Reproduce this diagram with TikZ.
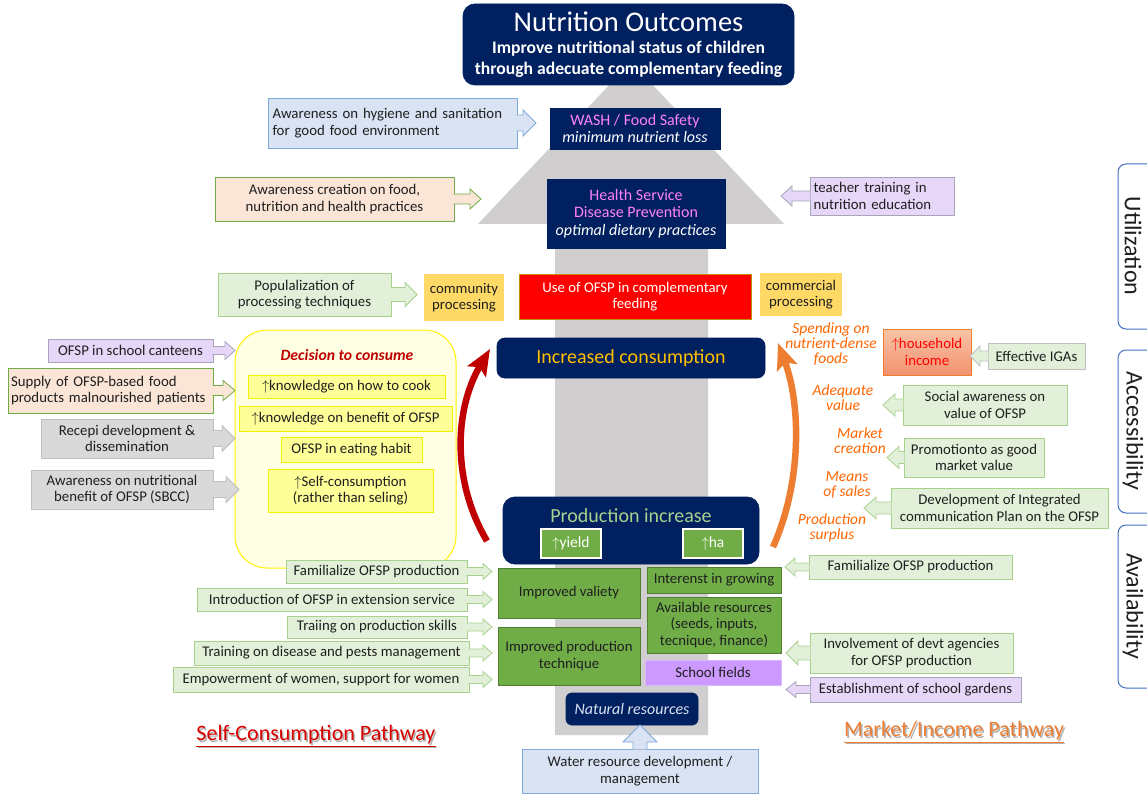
\documentclass[tikz,border=0pt]{standalone}
\usepackage{fontspec}
\setmainfont{Carlito}
\usetikzlibrary{calc,arrows.meta}

\definecolor{navy}{HTML}{002060}
\definecolor{pinkt}{HTML}{FF80FF}
\definecolor{goldt}{HTML}{FFC000}
\definecolor{lgrt}{HTML}{A9D18E}
\definecolor{bigarrow}{HTML}{D0CECE}
\definecolor{lblue}{HTML}{DAE3F3}
\definecolor{bblue}{HTML}{7FAADC}
\definecolor{peach}{HTML}{FBE5D6}
\definecolor{gborder}{HTML}{70AD47}
\definecolor{lgreen}{HTML}{E2F0D9}
\definecolor{lgborder}{HTML}{A9D18E}
\definecolor{lav}{HTML}{E6D6F8}
\definecolor{lavborder}{HTML}{A6A6B8}
\definecolor{gold}{HTML}{FFD966}
\definecolor{dred}{HTML}{C00000}
\definecolor{oran}{HTML}{FF6600}
\definecolor{orarrow}{HTML}{ED7D31}
\definecolor{midgreen}{HTML}{70AD47}
\definecolor{dgreen}{HTML}{507E32}
\definecolor{purp}{HTML}{CC99FF}
\definecolor{lgray}{HTML}{D9D9D9}
\definecolor{gray2}{HTML}{BFBFBF}
\definecolor{kyel}{HTML}{FFFF99}
\definecolor{kyelb}{HTML}{F2F200}
\definecolor{decfill}{HTML}{FFFFE3}
\definecolor{tabblue}{HTML}{4472C4}
\definecolor{txt}{HTML}{1F1F1F}
\definecolor{salmtop}{HTML}{F9C3A6}
\definecolor{salmbot}{HTML}{F2926F}
\definecolor{usebord}{HTML}{BF9000}
\definecolor{pathred}{HTML}{D90000}

% box given by its corners in pixel units: name, x1, y1, x2, y2, style, text
\newcommand\mkbox[7]{%
  \pgfmathsetmacro\bxw{#4-#2}\pgfmathsetmacro\bxh{#5-#3}%
  \node[#6, minimum width=\bxw pt, minimum height=\bxh pt]
    (#1) at ({(#2+#4)/2},{(#3+#5)/2}) {#7};}

% arrow callouts: node, style, tip, shaft half height, head half height, head length
\newcommand\calloutR[6]{%
  \filldraw[#2] let \p1=(#1.east) in
    (\x1-0.8pt,\y1+#4pt) -- (#3pt-#6pt,\y1+#4pt) -- (#3pt-#6pt,\y1+#5pt)
    -- (#3pt,\y1) -- (#3pt-#6pt,\y1-#5pt) -- (#3pt-#6pt,\y1-#4pt)
    -- (\x1-0.8pt,\y1-#4pt);}
\newcommand\calloutL[6]{%
  \filldraw[#2] let \p1=(#1.west) in
    (\x1+0.8pt,\y1+#4pt) -- (#3pt+#6pt,\y1+#4pt) -- (#3pt+#6pt,\y1+#5pt)
    -- (#3pt,\y1) -- (#3pt+#6pt,\y1-#5pt) -- (#3pt+#6pt,\y1-#4pt)
    -- (\x1+0.8pt,\y1-#4pt);}
\newcommand\calloutU[6]{%
  \filldraw[#2] let \p1=(#1.north) in
    (\x1-#4pt,\y1-0.8pt) -- (\x1-#4pt,-#3pt-#6pt) -- (\x1-#5pt,-#3pt-#6pt)
    -- (\x1,-#3pt) -- (\x1+#5pt,-#3pt-#6pt) -- (\x1+#4pt,-#3pt-#6pt)
    -- (\x1+#4pt,\y1-0.8pt);}

\tikzset{
  base/.style={inner sep=0pt, align=center, text=txt, font=\fontsize{14.8}{16.5}\selectfont, line width=0.8pt},
  navybox/.style={base, fill=navy, draw=navy, text=white},
  cblue/.style={fill=lblue, draw=bblue, line width=0.8pt},
  cpeach/.style={fill=peach, draw=gborder, line width=0.8pt},
  cgreen/.style={fill=lgreen, draw=lgborder, line width=0.8pt},
  cgreengray/.style={fill=lgreen, draw=gray2, line width=0.8pt},
  clav/.style={fill=lav, draw=lavborder, line width=0.8pt},
  cgray/.style={fill=lgray, draw=gray2, line width=0.8pt},
  goldbox/.style={base, fill=gold},
  greenbox/.style={base, fill=midgreen, draw=dgreen},
  kbox/.style={base, fill=kyel, draw=kyelb, line width=1pt},
  smallgreen/.style={base, fill=midgreen, draw=white, line width=1.5pt, text=white, font=\fontsize{15.5}{17}\selectfont},
  orlabel/.style={inner sep=0pt, align=center, text=oran, font=\fontsize{15.5}{15}\selectfont\itshape},
  tabbox/.style={draw=tabblue, line width=1pt, fill=white, rounded corners=8pt, inner sep=0pt},
  tabtext/.style={rotate=-90, inner sep=0pt, font=\fontsize{24}{24}\selectfont, text=txt},
  pathtitle/.style={inner sep=0pt, font=\fontsize{22}{24}\selectfont},
  redcurve/.style={draw=dred, line width=6.5pt, -{Stealth[length=26pt,width=21pt,inset=5pt]}},
  orcurve/.style={draw=orarrow, line width=6.5pt, -{Stealth[length=26pt,width=21pt,inset=5pt]}},
}

\begin{document}
\begin{tikzpicture}[x=1pt,y=-1pt]
\useasboundingbox (0,0) rectangle (1147,794);
\fill[white] (0,0) rectangle (1147,794);

% central upward arrow
\fill[bigarrow] (555,735) -- (555,224) -- (478,224) -- (631,62) -- (784,224)
  -- (708,224) -- (708,735) -- cycle;

% ---- top: outcomes and utilization ----
\mkbox{nut}{463}{4}{794}{85}{navybox, rounded corners=12pt, font=\fontsize{17.6}{20.5}\selectfont\bfseries}
  {{\fontsize{28.5}{28}\mdseries\selectfont Nutrition Outcomes}\\[2pt]Improve nutritional status of children\\through adecuate complementary feeding}
\mkbox{wash}{550}{108}{720}{149}{navybox, font=\fontsize{16}{17}\selectfont}
  {\textcolor{pinkt}{WASH / Food Safety}\\\textit{minimum nutrient loss}}
\mkbox{hyg}{268}{98}{517}{148}{base, cblue, align=left, text width=240pt}
  {Awareness on hygiene and sanitation\\for good food environment}
\calloutR{hyg}{cblue}{536}{8}{13}{13}

\mkbox{health}{547}{179}{725}{248}{navybox, font=\fontsize{16}{17.5}\selectfont}
  {\textcolor{pinkt}{Health Service}\\\textcolor{pinkt}{Disease Prevention}\\\textit{optimal dietary practices}}
\mkbox{awc}{215}{177}{454}{221}{base, cpeach}
  {Awareness creation on food,\\nutrition and health practices}
\calloutR{awc}{cpeach}{481}{5}{10}{11}
\mkbox{teach}{810}{177}{954}{215}{base, clav, align=left, text width=137pt}
  {teacher training in\\nutrition education}
\calloutL{teach}{clav}{781}{5}{10}{11}

\mkbox{pop}{218}{273}{391}{316}{base, cgreen}
  {Populalization of\\processing techniques}
\calloutR{pop}{cgreen}{417}{7}{12}{12}
\mkbox{comm}{424}{274}{504}{321}{goldbox}{community\\processing}
\mkbox{use}{519}{274}{751}{319}{base, fill=red, draw=usebord, text=white}
  {Use of OFSP in complementary\\feeding}
\mkbox{comr}{760}{273}{842}{316}{goldbox}{commercial\\processing}

% ---- consumption ----
\mkbox{inc}{497}{338}{765}{378}{navybox, rounded corners=8pt, text=goldt, font=\fontsize{20}{22}\selectfont}
  {Increased consumption}

\mkbox{dec}{235}{330}{456}{568}{base, fill=decfill, draw=yellow, line width=1pt, rounded corners=32pt}{}
\node[inner sep=0pt, text=dred, font=\fontsize{15.7}{17}\selectfont\bfseries\itshape] (dectitle) at (347,355) {Decision to consume};
\mkbox{k1}{248}{375}{445}{398}{kbox}{$\uparrow$knowledge on how to cook}
\mkbox{k2}{239}{406}{452}{431}{kbox}{$\uparrow$knowledge on benefit of OFSP}
\mkbox{k3}{281}{437}{422}{462}{kbox}{OFSP in eating habit}
\mkbox{k4}{268}{469}{433}{512}{kbox}{$\uparrow$Self-consumption\\(rather than seling)}

\mkbox{cant}{48}{339}{213}{362}{base, clav}{OFSP in school canteens}
\calloutR{cant}{clav}{235}{4}{9}{10}
\mkbox{supp}{8}{368}{213}{413}{base, cpeach, align=left, text width=199pt}
  {Supply of OFSP-based food\\products malnourished patients}
\calloutR{supp}{cpeach}{235}{5}{10}{12}
\mkbox{rec}{41}{419}{213}{458}{base, cgray}{Recepi development \&\\dissemination}
\calloutR{rec}{cgray}{235}{8}{13}{13}
\mkbox{awn}{31}{470}{213}{509}{base, cgray}{Awareness on nutritional\\benefit of OFSP (SBCC)}
\calloutR{awn}{cgray}{239}{8}{13}{13}

% ---- market / income side ----
\mkbox{hh}{883}{329}{971}{375}{base, top color=salmtop, bottom color=salmbot, draw=orarrow, text=red}
  {$\uparrow$household\\income}
\mkbox{iga}{988}{343}{1085}{369}{base, cgreengray}{Effective IGAs}
\calloutL{iga}{cgreengray}{970}{5}{10}{10}
\mkbox{soc}{903}{385}{1067}{425}{base, cgreen}{Social awareness on\\value of OFSP}
\calloutL{soc}{cgreen}{883}{6}{11}{12}
\mkbox{promo}{904}{438}{1044}{477}{base, cgreen}{Promotionto as good\\market value}
\calloutL{promo}{cgreen}{887}{6}{11}{12}
\mkbox{dev}{891}{488}{1108}{528}{base, cgreen}{Development of Integrated\\communication Plan on the OFSP}
\calloutL{dev}{cgreen}{864}{6}{11}{12}

\node[orlabel] (lspend) at (831,344) {Spending on\\nutrient-dense\\foods};
\node[orlabel] (ladeq) at (843,398) {Adequate\\value};
\node[orlabel] (lmark) at (860,441) {Market\\creation};
\node[orlabel] (lmeans) at (847,485) {Means\\of sales};
\node[orlabel] (lsurp) at (832,528) {Production\\surplus};

% ---- production ----
\mkbox{prod}{503}{497}{759}{564}{navybox, rounded corners=12pt}{}
\node[inner sep=0pt, text=lgrt, font=\fontsize{20}{22}\selectfont] (prodt) at (631,516) {Production increase};
\mkbox{yld}{541}{529}{601}{558}{smallgreen}{$\uparrow$yield}
\mkbox{ha}{683}{529}{743}{558}{smallgreen}{$\uparrow$ha}

% red and orange pathway arrows
\coordinate (rs) at (487,541);
\coordinate (re) at (490,349);
\draw[redcurve] (rs) .. controls (452,482) and (454,410) .. (re);
\coordinate (os) at (773,547);
\coordinate (oe) at (778,343);
\draw[orcurve] (os) .. controls (802,482) and (801,405) .. (oe);

\mkbox{val}{498}{568}{640}{618}{greenbox}{Improved valiety}
\mkbox{tech}{498}{627}{640}{685}{greenbox}{Improved production\\technique}
\mkbox{intr}{647}{567}{781}{593}{greenbox}{Interenst in growing}
\mkbox{res}{647}{597}{781}{653}{greenbox}{Available resources\\(seeds, inputs,\\tecnique, finance)}
\mkbox{sch}{645}{660}{781}{685}{base, fill=purp, draw=purp!70!white}{School fields}

\mkbox{famL}{286}{560}{467}{583}{base, cgreen}{Familialize OFSP production}
\calloutR{famL}{cgreen}{492}{4}{8}{9}
\mkbox{intro}{197}{588}{467}{611}{base, cgreen}{Introduction of OFSP in extension service}
\calloutR{intro}{cgreen}{492}{4}{8}{9}
\mkbox{skill}{287}{616}{467}{638}{base, cgreen}{Traiing on production skills}
\calloutR{skill}{cgreen}{492}{4}{8}{9}
\mkbox{pest}{194}{641}{469}{665}{base, cgreen}{Training on disease and pests management}
\calloutR{pest}{cgreen}{492}{4}{8}{9}
\mkbox{women}{173}{667}{469}{692}{base, cgreen}{Empowerment of women, support for women}
\calloutR{women}{cgreen}{492}{4}{8}{9}

\mkbox{famR}{809}{555}{1012}{579}{base, cgreen}{Familialize OFSP production}
\calloutL{famR}{cgreen}{785}{4}{9}{10}
\mkbox{inv}{810}{633}{1013}{673}{base, cgreen}{Involvement of devt agencies\\for OFSP production}
\calloutL{inv}{cgreen}{786}{7}{12}{12}
\mkbox{gard}{810}{677}{1021}{702}{base, clav}{Establishment of school gardens}
\calloutL{gard}{clav}{786}{4}{8}{10}

% ---- base ----
\mkbox{nat}{566}{693}{698}{725}{navybox, rounded corners=6pt, text=lblue, font=\fontsize{16}{17}\selectfont\itshape}{Natural resources}
\mkbox{water}{522}{749}{758}{793}{base, cblue}{Water resource development /\\management}
\calloutU{water}{cblue}{725}{7}{17}{17}

% pathway titles, each with a soft drop shadow
\node[pathtitle, text=black!30] at (317.5,737.5) {\underline{Self-Consumption Pathway}};
\node[pathtitle, text=pathred] (selfp) at (316,736) {\underline{Self-Consumption Pathway}};
\node[pathtitle, text=black!30] at (955.5,733.5) {\underline{Market/Income Pathway}};
\node[pathtitle, text=orarrow] (markp) at (954,732) {\underline{Market/Income Pathway}};

% dimension tabs
\mkbox{tabU}{1118}{164}{1175}{329}{tabbox}{}
\node[tabtext] (tU) at (1133,246) {Utilization};
\mkbox{tabA}{1118}{350}{1175}{513}{tabbox}{}
\node[tabtext] (tA) at (1133,431) {Accessibility};
\mkbox{tabV}{1118}{525}{1175}{688}{tabbox}{}
\node[tabtext] (tV) at (1133,606) {Availability};
\end{tikzpicture}
\end{document}
